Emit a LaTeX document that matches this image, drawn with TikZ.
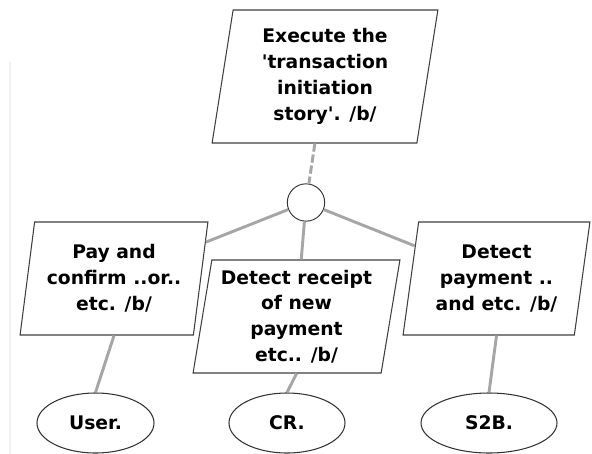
\documentclass[tikz,border=0pt]{standalone}
\usepackage{fontspec}
\setmainfont{DejaVu Sans}
\usetikzlibrary{shapes.geometric}

\begin{document}
\begin{tikzpicture}[x=0.03cm,y=-0.03cm,
    goalbox/.style={trapezium, trapezium left angle=80, trapezium right angle=100,
        trapezium stretches=true, draw=black!75, line width=0.9pt, fill=white,
        align=center, inner sep=2pt, font=\fontsize{16}{22}\selectfont\bfseries,
        minimum width=5.64cm, minimum height=3.39cm},
    actor/.style={ellipse, draw=black!80, line width=0.9pt, fill=white,
        minimum width=3.51cm, minimum height=1.8cm, inner sep=1pt,
        font=\fontsize{16}{22}\selectfont\bfseries},
    junction/.style={circle, draw=black!80, line width=0.8pt, fill=white,
        minimum size=1.12cm, inner sep=0pt},
    link/.style={black!35, line width=2.5pt}]
    \useasboundingbox (0,0) rectangle (592,454);

    % faint edge at the left
    \draw[black!5, line width=1.5pt] (10,62) -- (10,454);

    % Goal and its refinement
    \node[goalbox, trapezium left angle=81.5, trapezium right angle=98.5,
        minimum width=6.78cm, minimum height=3.99cm] (story) at (325,76.5)
        {Execute the\\\textquotesingle transaction\\initiation\\story\textquotesingle. /b/};
    \node[junction] (and) at (306,202.5) {};
    \node[goalbox] (pay) at (114,278.5) {Pay and\\confirm ..or..\\etc. /b/};
    \node[goalbox, minimum width=6.21cm] (receipt) at (296.5,316.5)
        {Detect receipt\\of new\\payment\\etc.. /b/};
    \node[goalbox, minimum width=5.61cm] (detect) at (496.5,278.5)
        {Detect\\payment ..\\and etc. /b/};

    % Agents
    \node[actor] (user) at (95.5,423) {User.};
    \node[actor, minimum width=3.48cm] (cr) at (287,423) {CR.};
    \node[actor, minimum width=4.08cm] (s2b) at (489,423) {S2B.};

    % Links
    \draw[link, dash pattern=on 7pt off 2.5pt] (story) -- (and);
    \draw[link] (and) -- (pay);
    \draw[link] (and) -- (receipt);
    \draw[link] (and) -- (detect);
    \draw[link] (pay.south) -- (user.north);
    \draw[link] (receipt.south) -- (cr.north);
    \draw[link] (detect.south) -- (s2b.north);
\end{tikzpicture}
\end{document}
